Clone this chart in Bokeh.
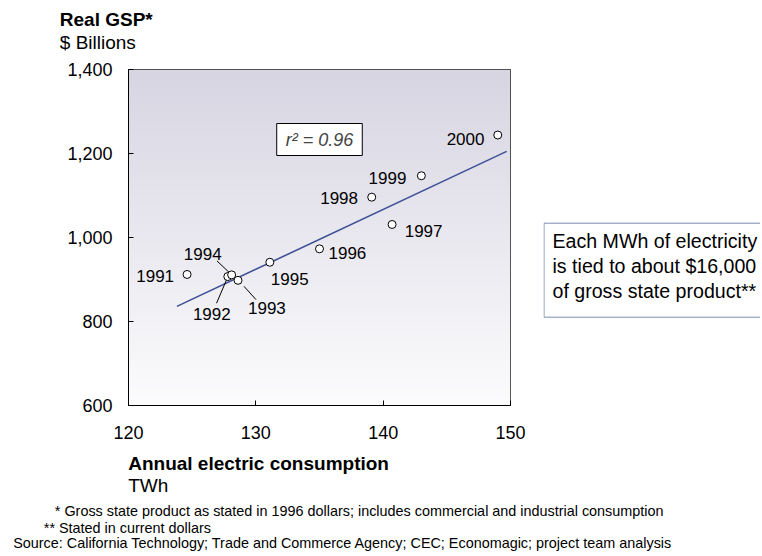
import numpy as np
from bokeh.plotting import figure
from bokeh.layouts import column, row
from bokeh.models import Label, NumeralTickFormatter, FixedTicker, ColumnDataSource, Range1d
from bokeh.core.properties import value
from bokeh.embed import file_html
from bokeh.resources import INLINE

# ---------------- data ----------------
years = ["1991", "1992", "1993", "1994", "1995", "1996", "1997", "1998", "1999", "2000"]
consumption_twh = [124.6, 127.8, 128.6, 128.1, 131.1, 135.0, 140.7, 139.1, 143.0, 149.0]
gsp_billions = [912, 907, 898, 911, 941, 973, 1031, 1096, 1147, 1244]
trend_twh = [123.8, 149.7]
trend_gsp = [836, 1205]
x_ticks = [120, 130, 140, 150]
y_ticks = [600, 800, 1000, 1200, 1400]
r_squared = "0.96"

# ---------------- styles / layout ----------------
FONT = "Liberation Sans"
X0, X1, Y0, Y1 = 120, 150, 600, 1400
FW, FH = 382, 336
TOTAL_W = 760
TOP_H = 56
P_LEFT, P_RIGHT = 128, 33
FT = 69                                  # frame top on the page
P_TOP = FT - TOP_H
P_BOTTOM = 48
P_W = P_LEFT + FW + P_RIGHT
P_H = P_TOP + FH + P_BOTTOM
BOT_Y = TOP_H + P_H                      # page y where the bottom strip starts
BOT_H = 554 - BOT_Y
MID = 0.3465                             # middle-of-em offset above the baseline

label_align = ["right", "center", "left", "right", "left", "left", "left", "right", "right", "right"]
label_dx = [-13, -16, 10, -10, 1, 9, 12.6, -13.7, -15, -13.3]
label_dy = [1.5, 37, 28, -20.7, 16.3, 4, 6.4, 1, 2, 4]

# leader lines (pixel offsets from the point): year -> (dx0, dy0, dx1, dy1)
leaders = {"1994": (-2, -2, -14.7, -14), "1992": (-1.3, 3.3, -11.3, 26.7), "1993": (6, 6, 18, 19.3)}


def pg(px, py):
    return (X0 + (px - P_LEFT) * (X1 - X0) / FW, Y0 + (FT + FH - py) * (Y1 - Y0) / FH)


def canvas(x0, x1, ytop, ybot, w, h, **kw):
    c = figure(width=w, height=h, x_range=Range1d(x0, x1), y_range=Range1d(ybot, ytop),
               x_axis_type=None, y_axis_type=None, min_border=0,
               output_backend="svg", toolbar_location=None, **kw)
    c.grid.visible = False
    c.outline_line_color = None
    c.background_fill_color = "white"
    c.border_fill_color = "white"
    return c


def txt(c, x, baseline, s, size, style="normal"):
    c.text(x=[x], y=[baseline - MID * size], text=[s], text_align="left", text_baseline="middle",
           text_font=value(FONT), text_font_size="%.1fpx" % size, text_font_style=style,
           text_color="black")


# ---------------- main plot ----------------
p = figure(frame_width=FW, frame_height=FH,
           min_border_left=P_LEFT, min_border_right=P_RIGHT,
           min_border_top=P_TOP, min_border_bottom=P_BOTTOM,
           x_range=(X0, X1), y_range=(Y0, Y1),
           output_backend="svg", toolbar_location=None)
p.xgrid.visible = False
p.ygrid.visible = False
p.outline_line_color = "#222222"
p.outline_line_width = 1
p.background_fill_color = "white"
p.border_fill_color = "white"

# gradient background
n = FH
t = np.linspace(0, 1, n)[:, None]
bot = np.array([252, 252, 253], dtype=float)
top = np.array([215, 213, 226], dtype=float)
cols = bot + (top - bot) * t
img = np.zeros((n, 1), dtype=np.uint32)
view = img.view(dtype=np.uint8).reshape((n, 1, 4))
view[:, :, 0] = cols[:, 0].astype(np.uint8)[:, None]
view[:, :, 1] = cols[:, 1].astype(np.uint8)[:, None]
view[:, :, 2] = cols[:, 2].astype(np.uint8)[:, None]
view[:, :, 3] = 255
p.image_rgba(image=[img], x=X0, y=Y0, dw=X1 - X0, dh=Y1 - Y0)

for ax in (p.xaxis[0], p.yaxis[0]):
    ax.axis_line_color = "black"
    ax.axis_line_width = 1
    ax.major_tick_in = 5
    ax.major_tick_out = 0
    ax.minor_tick_line_color = None
    ax.major_tick_line_color = "black"
    ax.major_label_text_font = FONT
    ax.major_label_text_font_size = "18px"
    ax.major_label_text_color = "black"
p.xaxis.ticker = FixedTicker(ticks=x_ticks)
p.yaxis.ticker = FixedTicker(ticks=y_ticks)
p.yaxis.formatter = NumeralTickFormatter(format="0,0")
p.xaxis.major_label_standoff = 20
p.yaxis.major_label_standoff = 16

p.line(trend_twh, trend_gsp, line_color="#3f5196", line_width=1.6)

sx = (X1 - X0) / FW
sy = (Y1 - Y0) / FH
lx0, ly0, lx1, ly1 = [], [], [], []
for yr, (a, b, c_, d) in leaders.items():
    i = years.index(yr)
    lx0.append(consumption_twh[i] + a * sx)
    ly0.append(gsp_billions[i] - b * sy)
    lx1.append(consumption_twh[i] + c_ * sx)
    ly1.append(gsp_billions[i] - d * sy)
p.segment(lx0, ly0, lx1, ly1, line_color="black", line_width=1)

src = ColumnDataSource(dict(x=consumption_twh, y=gsp_billions, year=years,
                            align=label_align, dx=label_dx, dy=label_dy))
p.scatter("x", "y", source=src, size=8, fill_color="white", line_color="black", line_width=1)
p.text("x", "y", text="year", source=src, text_align="align", x_offset="dx", y_offset="dy",
       text_baseline="middle", text_font=value(FONT), text_font_size="17px", text_color="black")

rx, ry = pg(319, 139)
p.add_layout(Label(x=rx, y=ry, text="r\u00b2 = " + r_squared, text_align="center", text_baseline="middle",
                   text_font=FONT, text_font_size="18px", text_font_style="italic",
                   background_fill_color="white", border_line_color="black", border_line_width=1,
                   padding=(9, 6)))

# ---------------- title strip (page coordinates) ----------------
top_c = canvas(0, TOTAL_W, 0, TOP_H, TOTAL_W, TOP_H)
txt(top_c, 59.3, 26, "Real GSP*", 19, "bold")
txt(top_c, 59.3, 48.3, "$ Billions", 19)

# ---------------- right note (page coordinates, frame aligned with the plot) ----------------
R_W = TOTAL_W - P_W
right_c = canvas(P_W, TOTAL_W, FT, FT + FH, R_W, P_H,
                 min_border_top=P_TOP, min_border_bottom=P_BOTTOM)
right_c.quad(left=[543.5], right=[TOTAL_W + 10], top=[222.7], bottom=[316.7],
             fill_color="white", line_color="#7d8cb4", line_width=1)
txt(right_c, 552, 247.3, "Each MWh of electricity", 19.6)
txt(right_c, 552, 272.5, "is tied to about $16,000", 19.6)
txt(right_c, 552, 297.5, "of gross state product**", 19.6)

# ---------------- bottom strip (page coordinates) ----------------
bot_c = canvas(0, TOTAL_W, BOT_Y, BOT_Y + BOT_H, TOTAL_W, BOT_H)
txt(bot_c, 127.7, 469.3, "Annual electric consumption", 19, "bold")
txt(bot_c, 127.7, 491.7, "TWh", 19)
txt(bot_c, 54.3, 515, "* Gross state product as stated in 1996 dollars; includes commercial and industrial consumption", 14.4)
txt(bot_c, 43.3, 532, "** Stated in current dollars", 14.4)
txt(bot_c, 12.7, 547, "Source: California Technology; Trade and Commerce Agency; CEC; Economagic; project team analysis", 14.4)

layout = column(top_c, row(p, right_c, spacing=0), bot_c, spacing=0)
open("out.html", "w").write(file_html(layout, INLINE))
